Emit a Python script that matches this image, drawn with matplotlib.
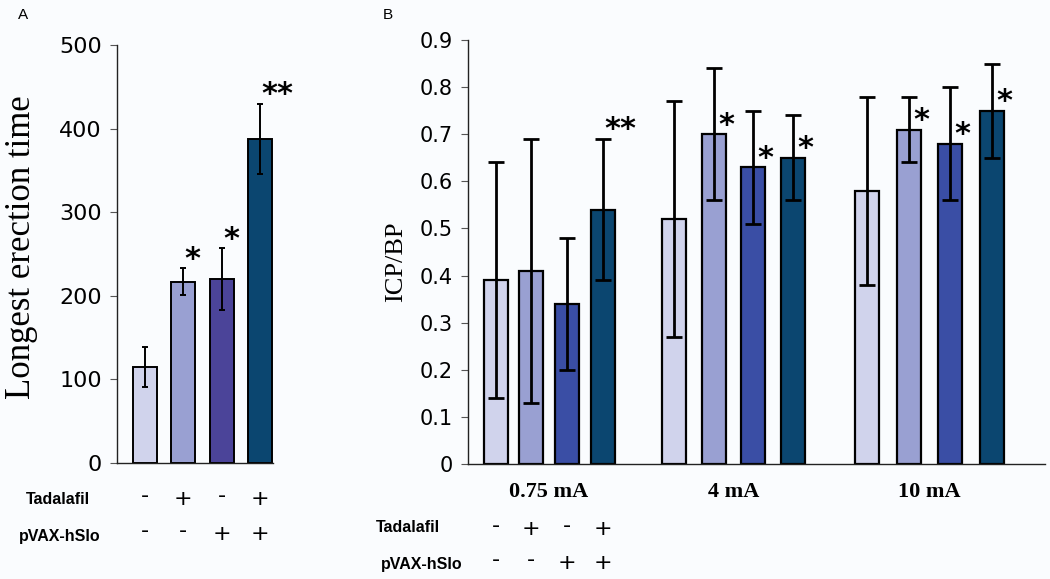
import matplotlib
matplotlib.use("Agg")
import matplotlib.pyplot as plt
import matplotlib.transforms as mtransforms
import numpy as np

# ---- data ----
# panel A: longest erection time
a_means = [115, 217, 220, 388]
a_errs = [24, 16, 37, 42]
a_stars = ['', '*', '*', '**']

# panel B: ICP/BP at three stimulation currents
currents = ['0.75 mA', '4 mA', '10 mA']
b_means = [[0.39, 0.41, 0.34, 0.54],
           [0.52, 0.70, 0.63, 0.65],
           [0.58, 0.71, 0.68, 0.75]]
b_errs = [[0.25, 0.28, 0.14, 0.15],
          [0.25, 0.14, 0.12, 0.09],
          [0.20, 0.07, 0.12, 0.10]]
b_stars = [['', '', '', '**'],
           ['', '*', '*', '*'],
           ['', '*', '*', '*']]

tadalafil = ['-', '+', '-', '+']
pvax = ['-', '-', '+', '+']

# ---- style ----
W, H = 1050, 579
bg = '#FAFCFE'
a_colors = ['#D0D3EC', '#99A0D2', '#4B4499', '#0B4670']
b_colors = ['#D0D3EC', '#99A0D2', '#3A4EA5', '#0B4670']
tick_font = 'DejaVu Sans'
lab_font = 'Liberation Sans'
serif = 'Liberation Serif'


def fx(px):
    return px / W


def fy(py):
    return 1 - py / H


fig = plt.figure(figsize=(W / 100, H / 100), dpi=100, facecolor=bg)


def style_axes(ax, fs):
    ax.set_facecolor(bg)
    for s in ['top', 'right']:
        ax.spines[s].set_visible(False)
    for s in ['left', 'bottom']:
        ax.spines[s].set_color('#222222')
        ax.spines[s].set_linewidth(1.0)
    ax.tick_params(axis='x', length=0, labelbottom=False)
    ax.tick_params(axis='y', length=5, width=0.8, color='#555555', direction='out',
                   labelsize=fs, pad=6)
    for t in ax.get_yticklabels():
        t.set_fontfamily(tick_font)


def sign_rows(ax, xs, y_tad, y_pvax):
    # +/- rows under the bars, x from data, y in figure pixels
    tr = mtransforms.blended_transform_factory(ax.transData, fig.transFigure)
    for x, t, p in zip(xs, tadalafil, pvax):
        for s, y in ((t, y_tad), (p, y_pvax)):
            yy = y - (3 if s == '-' else 0)
            ax.text(x, fy(yy), s, transform=tr, ha='center', va='center',
                    fontsize=16, fontfamily=tick_font, color='black')


# ---- panel A ----
axA = fig.add_axes([fx(117), fy(463), fx(273 - 117), (463 - 45) / H])
xa = np.arange(len(a_means))
axA.bar(xa, a_means, width=0.62, color=a_colors, edgecolor='black', linewidth=1.4, zorder=2)
axA.errorbar(xa, a_means, yerr=a_errs, fmt='none', ecolor='black', elinewidth=1.4,
             capsize=2.5, capthick=1.4, zorder=3)
axA.set_xlim(-0.73, 3.34)
axA.set_ylim(0, 500)
axA.set_yticks(range(0, 501, 100))
style_axes(axA, 16)
for x, m, e, s in zip(xa, a_means, a_errs, a_stars):
    if s:
        axA.annotate(s, xy=(x, m + e), xytext=(1, -4), textcoords='offset points',
                     ha='left', va='bottom', fontsize=22, fontweight='bold',
                     fontfamily=tick_font, annotation_clip=False)
fig.text(fx(22), fy(247), 'Longest erection time', rotation=90, ha='center', va='center',
         fontsize=25, fontfamily=serif)
fig.text(fx(18), fy(15), 'A', ha='left', va='center', fontsize=11, fontfamily=lab_font)
sign_rows(axA, xa, 499, 534)
fig.text(fx(58), fy(500), 'Tadalafil', ha='center', va='center', fontsize=11.5,
         fontweight='bold', fontfamily=lab_font)
fig.text(fx(60), fy(536), 'pVAX-hSlo', ha='center', va='center', fontsize=11.5,
         fontweight='bold', fontfamily=lab_font)

# ---- panel B ----
# axis x units are pixels; group starts and bar steps are layout only
group_start = [495.5, 674, 867]
group_step = [35.7, 39.7, 41.7]
axB = fig.add_axes([fx(468), fy(464), fx(1045 - 468), (464 - 40) / H])
axB.set_xlim(468, 1045)
axB.set_ylim(0, 0.9)
all_x = []
for g in range(len(currents)):
    xs = group_start[g] + np.arange(4) * group_step[g]
    all_x.extend(xs)
    axB.bar(xs, b_means[g], width=24, color=b_colors, edgecolor='black', linewidth=1.6, zorder=2)
    axB.errorbar(xs, b_means[g], yerr=b_errs[g], fmt='none', ecolor='black', elinewidth=2.0,
                 capsize=6, capthick=2.0, zorder=3)
    for x, m, e, s in zip(xs, b_means[g], b_errs[g], b_stars[g]):
        if not s:
            continue
        if s == '**':
            # double star sits over the error cap
            axB.annotate(s, xy=(x, m + e), xytext=(1, -4), textcoords='offset points',
                         ha='left', va='bottom', fontsize=22, fontweight='bold',
                         fontfamily=tick_font, annotation_clip=False)
        else:
            axB.annotate(s, xy=(x, m), xytext=(3, -4), textcoords='offset points',
                         ha='left', va='bottom', fontsize=22, fontweight='bold',
                         fontfamily=tick_font, annotation_clip=False)
    tr = mtransforms.blended_transform_factory(axB.transData, fig.transFigure)
    axB.text(xs.mean(), fy(492), currents[g], transform=tr, ha='center', va='center',
             fontsize=16, fontweight='bold', fontfamily=serif)
axB.set_yticks(np.arange(0, 0.91, 0.1))
axB.set_yticklabels(['%g' % v for v in np.round(np.arange(0, 0.91, 0.1), 1)])
style_axes(axB, 15)
fig.text(fx(396), fy(262), 'ICP/BP', rotation=90, ha='center', va='center',
         fontsize=19, fontfamily=serif)
fig.text(fx(383), fy(15), 'B', ha='left', va='center', fontsize=11, fontfamily=lab_font)
sign_rows(axB, all_x, 529, 563)
fig.text(fx(376), fy(528), 'Tadalafil', ha='left', va='center', fontsize=11.5,
         fontweight='bold', fontfamily=lab_font)
fig.text(fx(381), fy(564), 'pVAX-hSlo', ha='left', va='center', fontsize=11.5,
         fontweight='bold', fontfamily=lab_font)

fig.savefig('out.png', dpi=100, facecolor=bg)
